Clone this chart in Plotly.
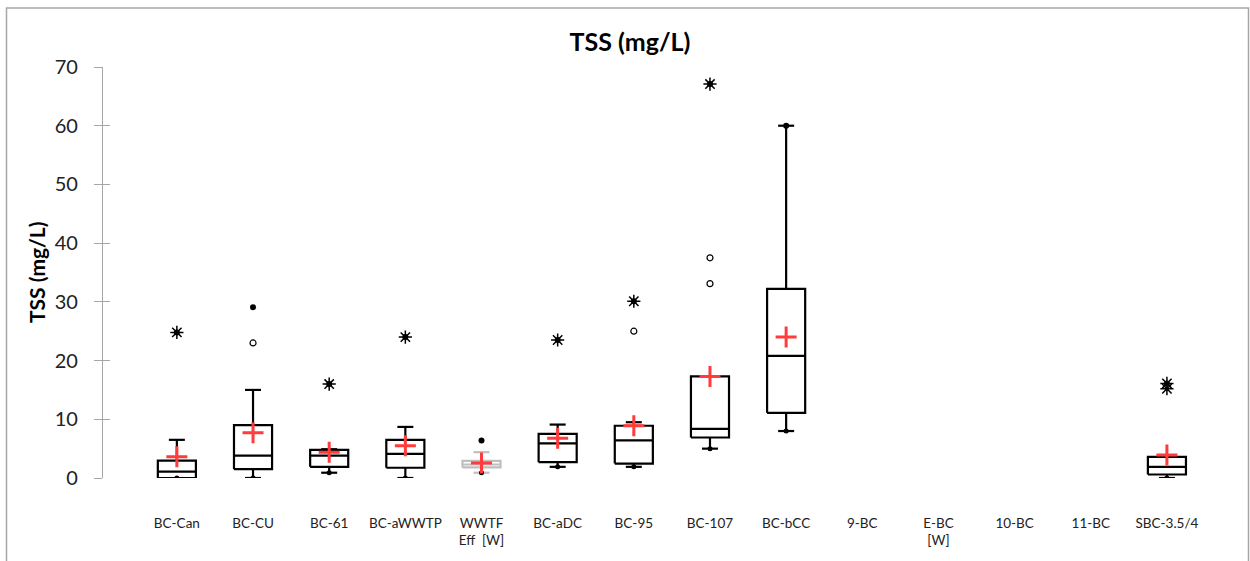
import plotly.graph_objects as go

categories = ["BC-Can", "BC-CU", "BC-61", "BC-aWWTP", "WWTF<br>Eff  [W]", "BC-aDC", "BC-95",
              "BC-107", "BC-bCC", "9-BC", "E-BC<br>[W]", "10-BC", "11-BC", "SBC-3.5/4"]
q1 = [0.0, 1.5, 1.9, 1.75, 1.8, 2.7, 2.45, 6.9, 11.1, None, None, None, None, 0.6]
median = [1.1, 3.8, 3.8, 4.1, 2.3, 5.9, 6.4, 8.35, 20.8, None, None, None, None, 1.9]
q3 = [2.95, 9.0, 4.8, 6.5, 2.9, 7.5, 8.9, 17.3, 32.2, None, None, None, None, 3.6]
whisker_low = [0.0, 0.0, 0.9, 0.0, 0.9, 1.9, 1.9, 5.0, 8.0, None, None, None, None, 0.0]
whisker_high = [6.5, 15.0, 4.9, 8.7, 4.4, 9.1, 9.5, 12.0, 60.0, None, None, None, None, 3.85]
mean = [3.6, 7.7, 4.4, 5.5, 2.55, 6.75, 8.9, 17.3, 24.0, None, None, None, None, 3.9]
minimum = [0.0, 0.0, 0.9, 0.0, 0.9, 1.9, 1.9, 5.0, 8.0, None, None, None, None, 0.0]
maximum = [24.8, 29.1, 16.0, 24.0, 6.4, 23.5, 30.1, 67.1, 60.0, None, None, None, None, 16.1]
gray_boxes = ["WWTF<br>Eff  [W]"]

# extreme outliers (stars) and mild outliers (open circles)
star_cat = ["BC-Can", "BC-61", "BC-aWWTP", "BC-aDC", "BC-95", "BC-107", "SBC-3.5/4", "SBC-3.5/4"]
star_val = [24.8, 16.0, 24.0, 23.5, 30.1, 67.1, 16.1, 15.2]
circ_cat = ["BC-CU", "BC-95", "BC-107", "BC-107"]
circ_val = [23.0, 25.0, 37.5, 33.1]

HW = 0.25   # box half width (category units)
CW = 0.105  # whisker cap half width

idx = {c: i for i, c in enumerate(categories)}

def box_paths(select):
    bx, by, mx, my, wx, wy = [], [], [], [], [], []
    for i, c in enumerate(categories):
        if q1[i] is None or not select(c):
            continue
        bx += [i - HW, i + HW, i + HW, i - HW, i - HW, None]
        by += [q1[i], q1[i], q3[i], q3[i], q1[i], None]
        mx += [i - HW, i + HW, None]
        my += [median[i], median[i], None]
        wx += [i, i, None, i - CW, i + CW, None, i, i, None, i - CW, i + CW, None]
        wy += [q3[i], whisker_high[i], None, whisker_high[i], whisker_high[i], None,
               q1[i], whisker_low[i], None, whisker_low[i], whisker_low[i], None]
    return bx, by, mx, my, wx, wy

fig = go.Figure()
for sel, col in [(lambda c: c not in gray_boxes, "black"), (lambda c: c in gray_boxes, "#bfbfbf")]:
    bx, by, mx, my, wx, wy = box_paths(sel)
    fig.add_trace(go.Scatter(x=wx, y=wy, mode="lines", line=dict(color=col, width=2.2),
                             hoverinfo="skip", showlegend=False))
    fig.add_trace(go.Scatter(x=bx, y=by, mode="lines", line=dict(color=col, width=2.2),
                             fill="toself", fillcolor="white", hoverinfo="skip", showlegend=False))
    fig.add_trace(go.Scatter(x=mx, y=my, mode="lines", line=dict(color=col, width=2.2),
                             hoverinfo="skip", showlegend=False))

xs = [i for i in range(len(categories)) if minimum[i] is not None]
fig.add_trace(go.Scatter(x=xs, y=[minimum[i] for i in xs], mode="markers",
                         marker=dict(symbol="circle", size=5, color="black"), showlegend=False))
fig.add_trace(go.Scatter(x=xs, y=[maximum[i] for i in xs], mode="markers",
                         marker=dict(symbol="circle", size=6, color="black"), showlegend=False))
fig.add_trace(go.Scatter(x=[idx[c] for c in star_cat], y=star_val, mode="markers",
                         marker=dict(symbol="asterisk-open", size=11, color="black",
                                     line=dict(color="black", width=1.5)), showlegend=False))
fig.add_trace(go.Scatter(x=[idx[c] for c in circ_cat], y=circ_val, mode="markers",
                         marker=dict(symbol="circle-open", size=6, color="black",
                                     line=dict(color="black", width=1.2)), showlegend=False))
fig.add_trace(go.Scatter(x=xs, y=[mean[i] for i in xs], mode="markers",
                         marker=dict(symbol="cross-thin-open", size=15, color="#ff3b3b",
                                     line=dict(color="#ff3b3b", width=3)), showlegend=False))
# helper trace for inner tick marks
fig.add_trace(go.Scatter(x=[0], y=[0], yaxis="y2", mode="markers", marker=dict(opacity=0),
                         hoverinfo="skip", showlegend=False))

FONT = "Lato, 'Open Sans', sans-serif"
fig.update_layout(
    width=1250, height=561,
    margin=dict(l=103, r=45, t=67, b=83),
    paper_bgcolor="white", plot_bgcolor="white",
    font=dict(family=FONT, color="#222"),
    title=dict(text="<b>TSS (mg/L)</b>", x=630 / 1250, xanchor="center",
               y=1 - 42 / 561, yref="container", yanchor="middle",
               font=dict(size=25, color="black", family=FONT)),
    xaxis=dict(range=[-0.97, 13.5], tickmode="array", tickvals=list(range(len(categories))),
               ticktext=categories, showline=False, showgrid=False, zeroline=False, ticks="",
               tickfont=dict(size=13.5, color="#222"), ticklabelstandoff=35),
    yaxis=dict(range=[0, 70], tickvals=[0, 10, 20, 30, 40, 50, 60, 70], showgrid=False,
               zeroline=False, showline=True, linecolor="#a6a6a6", linewidth=1.2,
               ticks="outside", ticklen=8, tickcolor="#a6a6a6", tickwidth=1.2,
               tickfont=dict(size=20, color="#222"), ticklabelstandoff=12),
    yaxis2=dict(matches="y", overlaying="y", side="left", anchor="x", ticks="inside",
                ticklen=7, tickcolor="#a6a6a6", tickwidth=1.2, showticklabels=False,
                showline=False, showgrid=False, zeroline=False,
                tickvals=[0, 10, 20, 30, 40, 50, 60, 70]),
    annotations=[dict(text="<b>TSS (mg/L)</b>", textangle=-90, xref="paper", yref="paper",
                      x=(36 - 103) / 1102, y=(478 - 272) / 411, xanchor="center",
                      yanchor="middle", showarrow=False,
                      font=dict(size=21, color="black", family=FONT))],
    shapes=[dict(type="rect", xref="paper", yref="paper", x0=(6.5 - 103) / 1102,
                 x1=(1248.5 - 103) / 1102, y0=(478 - 580) / 411, y1=(478 - 8) / 411,
                 line=dict(color="#a6a6a6", width=1.5), layer="below")],
)

fig.write_html("out.html", config={"displayModeBar": False},
               post_script="document.body.style.margin='0';")
